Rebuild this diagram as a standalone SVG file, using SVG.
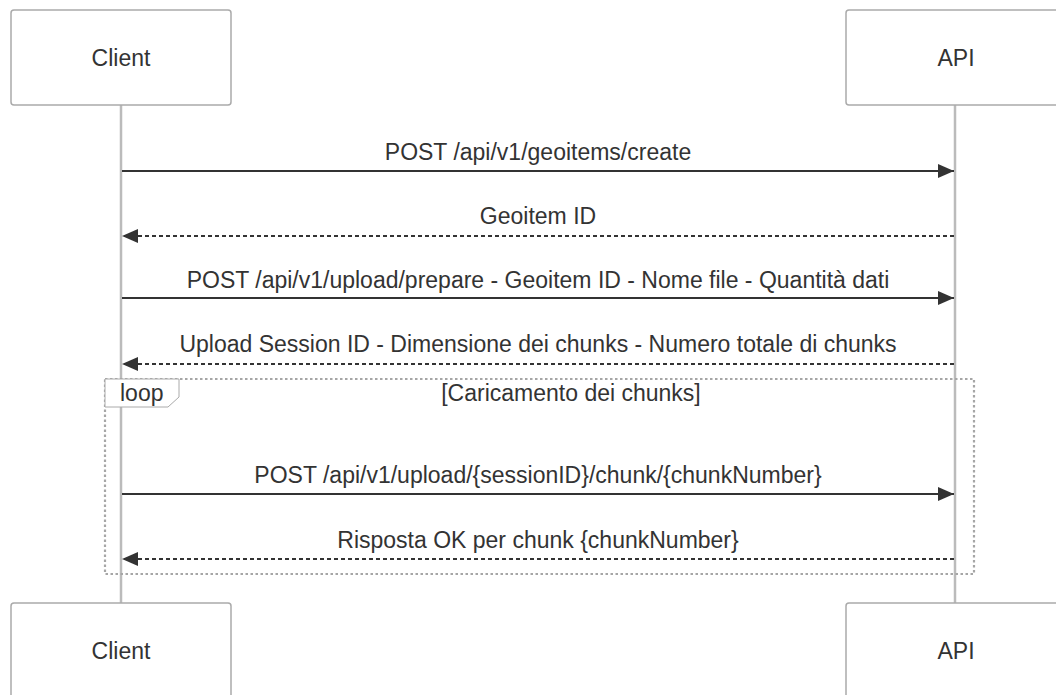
<svg xmlns="http://www.w3.org/2000/svg" width="1056" height="695" viewBox="0 0 1056 695">
  <style>
    .actor { fill: #ffffff; stroke: #aaaaaa; stroke-width: 1.5; }
    .actor-text { font-family: "Liberation Sans", Arial, sans-serif; font-size: 23px; fill: #333333; text-anchor: middle; dominant-baseline: central; }
    .lifeline { stroke: #bbbbbb; stroke-width: 2.5; }
    .msg { stroke: #333333; stroke-width: 2; fill: none; }
    .dashed { stroke-dasharray: 4 3; }
    .msg-text { font-family: "Liberation Sans", Arial, sans-serif; font-size: 23px; fill: #333333; text-anchor: middle; }
    .loop-box { fill: none; stroke: #a6a6a6; stroke-width: 2.2; stroke-dasharray: 2.5 2.5; }
    .loop-label { fill: #ffffff; stroke: #aaaaaa; stroke-width: 1; }
    .loop-text { font-family: "Liberation Sans", Arial, sans-serif; font-size: 23px; fill: #333333; }
  </style>
  <defs>
    <marker id="arrowhead" viewBox="0 0 16 14" refX="16" refY="7" markerWidth="16" markerHeight="14" markerUnits="userSpaceOnUse" orient="auto">
      <path d="M0,0 L16,7 L0,14 Z" fill="#333333"/>
    </marker>
  </defs>

  <!-- lifelines -->
  <g id="lifelines">
    <line class="lifeline" x1="121" y1="105" x2="121" y2="603"/>
    <line class="lifeline" x1="955" y1="105" x2="955" y2="603"/>
  </g>

  <!-- participants, top and bottom -->
  <g id="client-top">
    <rect class="actor" x="11" y="10" width="220" height="95" rx="3"/>
    <text class="actor-text" x="121" y="58">Client</text>
  </g>
  <g id="api-top">
    <rect class="actor" x="846" y="10" width="220" height="95" rx="3"/>
    <text class="actor-text" x="956" y="58">API</text>
  </g>
  <g id="client-bottom">
    <rect class="actor" x="11" y="603" width="220" height="95" rx="3"/>
    <text class="actor-text" x="121" y="651">Client</text>
  </g>
  <g id="api-bottom">
    <rect class="actor" x="846" y="603" width="220" height="95" rx="3"/>
    <text class="actor-text" x="956" y="651">API</text>
  </g>

  <!-- loop frame -->
  <g id="loop">
    <rect class="loop-box" x="105" y="379" width="869" height="195"/>
    <polygon class="loop-label" points="105,379 179,379 179,397 168,407 105,407"/>
    <text class="loop-text" x="120" y="401">loop</text>
    <text class="msg-text" x="571" y="401">[Caricamento dei chunks]</text>
  </g>

  <!-- messages -->
  <g id="connectors">
    <line class="msg" x1="122" y1="171" x2="954" y2="171" marker-end="url(#arrowhead)"/>
    <line class="msg dashed" x1="954" y1="236" x2="122" y2="236" marker-end="url(#arrowhead)"/>
    <line class="msg" x1="122" y1="298" x2="954" y2="298" marker-end="url(#arrowhead)"/>
    <line class="msg dashed" x1="954" y1="364" x2="122" y2="364" marker-end="url(#arrowhead)"/>
    <line class="msg" x1="122" y1="494" x2="954" y2="494" marker-end="url(#arrowhead)"/>
    <line class="msg dashed" x1="954" y1="559" x2="122" y2="559" marker-end="url(#arrowhead)"/>
  </g>

  <g id="labels">
    <text class="msg-text" x="538" y="160">POST /api/v1/geoitems/create</text>
    <text class="msg-text" x="538" y="224">Geoitem ID</text>
    <text class="msg-text" x="538" y="288">POST /api/v1/upload/prepare - Geoitem ID - Nome file - Quantità dati</text>
    <text class="msg-text" x="538" y="352">Upload Session ID - Dimensione dei chunks - Numero totale di chunks</text>
    <text class="msg-text" x="538" y="483">POST /api/v1/upload/{sessionID}/chunk/{chunkNumber}</text>
    <text class="msg-text" x="538" y="548">Risposta OK per chunk {chunkNumber}</text>
  </g>
</svg>
